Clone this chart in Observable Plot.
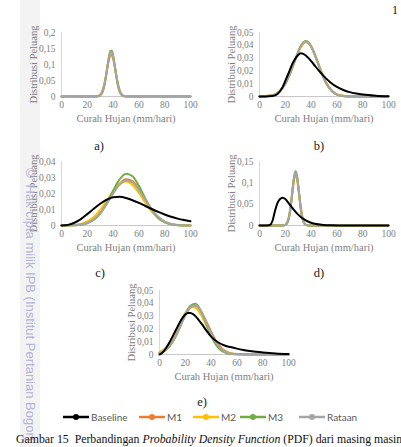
<!DOCTYPE html>
<html><head><meta charset="utf-8">
<script src="https://cdn.jsdelivr.net/npm/d3@7"></script>
<script src="https://cdn.jsdelivr.net/npm/@observablehq/plot@0.6"></script>
<style>
body{margin:0;background:#fff;}
#page{position:relative;width:401px;height:447px;overflow:hidden;background:#fff;font-family:"Liberation Serif",serif;}
.strip{position:absolute;left:20px;top:0;width:20px;height:447px;background:#f3f3f3;}
.tag{position:absolute;font-size:12.5px;color:#1a1a1a;transform:translate(-50%,-50%);line-height:1;}
.wm{position:absolute;left:24px;top:166px;writing-mode:vertical-rl;font-family:"Liberation Sans",Arial,sans-serif;font-size:13px;color:#b4b4d8;white-space:nowrap;line-height:1;}
.leg{position:absolute;display:flex;align-items:center;font-family:Lato,"Open Sans",sans-serif;font-size:10px;color:#595959;line-height:1;}
.leg svg{margin-right:2px;}
.cap{position:absolute;left:16px;top:434px;font-size:11.8px;color:#111;white-space:nowrap;line-height:1;}
.pg{position:absolute;left:392px;top:3px;font-size:12px;color:#111;}
</style></head><body><div id="page"><div class="strip"></div></div>
<script>
// ---------- data ----------
const seriesNames = ["Baseline", "M1", "M2", "M3", "Rataan"];
const seriesColors = ["#000000", "#ED7D31", "#FFC000", "#70AD47", "#A5A5A5"];
const xTicks = [0, 20, 40, 60, 80, 100];
const aYTicks = [0, 0.05, 0.1, 0.15, 0.2];
const bYTicks = [0, 0.01, 0.02, 0.03, 0.04, 0.05];
const cYTicks = [0, 0.01, 0.02, 0.03, 0.04];
const dYTicks = [0, 0.05, 0.1, 0.15];
const eYTicks = [0, 0.01, 0.02, 0.03, 0.04, 0.05];
const xTitle = "Curah Hujan (mm/hari)";
const yTitle = "Distribusi Peluang";
const panelTags = ["a)", "b)", "c)", "d)", "e)"];

// panel a
const aModelX = [0, 26, 28, 29, 30, 31, 32, 33, 34, 35, 36, 37, 38, 39, 40, 41, 42, 43, 44, 45, 46, 47, 48, 49, 51, 100];
const aM1 = [0, 0, 0.0011, 0.0026, 0.0057, 0.0114, 0.0209, 0.0352, 0.0541, 0.0765, 0.0992, 0.118, 0.1286, 0.1286, 0.118, 0.0992, 0.0765, 0.0541, 0.0352, 0.0209, 0.0114, 0.0057, 0.0026, 0.0011, 0, 0];
const aM2 = [0, 0, 0.0008, 0.002, 0.0046, 0.0096, 0.0185, 0.0326, 0.0523, 0.0766, 0.102, 0.1235, 0.136, 0.136, 0.1235, 0.102, 0.0766, 0.0523, 0.0326, 0.0185, 0.0096, 0.0046, 0.002, 0.0008, 0, 0];
const aM3 = [0, 0, 0.0005, 0.0013, 0.0034, 0.0078, 0.0161, 0.030, 0.0505, 0.0767, 0.105, 0.129, 0.143, 0.143, 0.129, 0.105, 0.0767, 0.0505, 0.030, 0.0161, 0.0078, 0.0034, 0.0013, 0.0005, 0, 0];
const aRataan = [0, 0, 0.0008, 0.002, 0.0045, 0.0094, 0.0183, 0.0325, 0.0525, 0.077, 0.103, 0.125, 0.138, 0.138, 0.125, 0.103, 0.077, 0.0525, 0.0325, 0.0183, 0.0094, 0.0045, 0.002, 0.0008, 0, 0];

// panel b
const bModelX = [0, 8, 12, 16, 20, 24, 28, 32, 36, 40, 44, 48, 52, 56, 60, 64, 70, 100];
const bM1 = [0, 0.0005, 0.0016, 0.0044, 0.0099, 0.0187, 0.0294, 0.0387, 0.0425, 0.0389, 0.0296, 0.0189, 0.0101, 0.0045, 0.0016, 0.0005, 0, 0];
const bM2 = [0, 0.0006, 0.0017, 0.0046, 0.0100, 0.0186, 0.0291, 0.0383, 0.0424, 0.0392, 0.0302, 0.0196, 0.0106, 0.0049, 0.0019, 0.0007, 0.0001, 0];
const bM3 = [0, 0.0005, 0.0015, 0.0043, 0.0099, 0.0189, 0.0299, 0.0396, 0.0434, 0.0395, 0.0298, 0.0187, 0.0097, 0.0042, 0.0014, 0.0004, 0, 0];
const bRataan = [0, 0.0005, 0.0015, 0.0043, 0.0098, 0.0187, 0.0296, 0.0391, 0.0429, 0.0391, 0.0296, 0.0187, 0.0098, 0.0043, 0.0015, 0.0005, 0, 0];
const bBaseX = [0, 5, 10, 14, 18, 22, 26, 30, 32, 34, 38, 42, 46, 50, 55, 60, 65, 70, 75, 80, 90, 100];
const bBase = [0, 0, 0.0003, 0.002, 0.0075, 0.017, 0.0265, 0.0325, 0.0338, 0.0333, 0.030, 0.0252, 0.0202, 0.0157, 0.011, 0.0075, 0.0051, 0.0034, 0.0023, 0.0015, 0.0006, 0.0002];

// panel c
const cX = [0, 5, 10, 15, 20, 25, 30, 35, 40, 45, 50, 55, 60, 65, 70, 75, 80, 85, 90, 95, 100];
const cBase = [0, 0.0004, 0.0017, 0.0040, 0.0071, 0.0105, 0.0136, 0.0161, 0.0177, 0.0179, 0.0172, 0.0158, 0.0141, 0.0122, 0.0103, 0.0085, 0.0069, 0.0055, 0.0043, 0.0034, 0.0027];
const cM1 = [0, 0.0001, 0.0002, 0.0006, 0.0017, 0.0039, 0.0079, 0.0136, 0.0203, 0.0261, 0.0289, 0.0277, 0.0228, 0.0162, 0.0100, 0.0053, 0.0024, 0.0009, 0.0003, 0.0001, 0];
const cM2 = [0, 0.0001, 0.0004, 0.0010, 0.0025, 0.0053, 0.0097, 0.0155, 0.0215, 0.0260, 0.0275, 0.0253, 0.0203, 0.0142, 0.0087, 0.0046, 0.0021, 0.0009, 0.0003, 0.0001, 0];
const cM3 = [0, 0, 0.0001, 0.0004, 0.0013, 0.0034, 0.0074, 0.0138, 0.0217, 0.0288, 0.0324, 0.0308, 0.0248, 0.0168, 0.0097, 0.0047, 0.0019, 0.0007, 0.0002, 0, 0];
const cRataan = [0, 0.0001, 0.0002, 0.0006, 0.0017, 0.0038, 0.0077, 0.0133, 0.0198, 0.0254, 0.0281, 0.0270, 0.0223, 0.0159, 0.0099, 0.0053, 0.0024, 0.0009, 0.0003, 0.0001, 0];

// panel d
const dModelX = [0, 16, 18, 20, 21, 22, 23, 24, 25, 26, 27, 28, 29, 30, 31, 32, 33, 34, 35, 36, 38, 40, 50, 100];
const dM1 = [0, 0, 0.0002, 0.002, 0.0052, 0.0119, 0.024, 0.0425, 0.0665, 0.0914, 0.1107, 0.118, 0.1107, 0.0914, 0.0665, 0.0425, 0.024, 0.0119, 0.0052, 0.002, 0.0002, 0, 0, 0];
const dM2 = [0, 0, 0.0001, 0.0015, 0.0042, 0.0103, 0.0218, 0.0405, 0.0658, 0.0928, 0.1142, 0.122, 0.1142, 0.0928, 0.0658, 0.0405, 0.0218, 0.0103, 0.0042, 0.0015, 0.0001, 0, 0, 0];
const dM3 = [0, 0, 0.0001, 0.0011, 0.0034, 0.0089, 0.020, 0.0389, 0.0653, 0.0945, 0.118, 0.127, 0.118, 0.0945, 0.0653, 0.0389, 0.020, 0.0089, 0.0034, 0.0011, 0.0001, 0, 0, 0];
const dRataan = [0, 0, 0.0001, 0.0013, 0.0038, 0.0096, 0.0209, 0.0397, 0.0656, 0.0937, 0.1163, 0.124, 0.1163, 0.0937, 0.0656, 0.0397, 0.0209, 0.0096, 0.0038, 0.0013, 0.0001, 0, 0, 0];
const dBaseX = [0, 6, 8, 10, 12, 14, 16, 18, 20, 22, 24, 26, 28, 30, 32, 34, 36, 38, 40, 44, 48, 52, 56, 60, 100];
const dBase = [0, 0, 0.001, 0.010, 0.034, 0.053, 0.062, 0.065, 0.062, 0.055, 0.047, 0.039, 0.032, 0.0255, 0.020, 0.0155, 0.0118, 0.0088, 0.0065, 0.0034, 0.0017, 0.0008, 0.0003, 0.0001, 0];

// panel e
const eModelX = [0, 4, 8, 12, 16, 20, 24, 28, 32, 36, 40, 44, 48, 52, 56, 60, 70, 80, 90, 100];
const eM1 = [0.0013, 0.0034, 0.0074, 0.0137, 0.0219, 0.0305, 0.0365, 0.0378, 0.0338, 0.0265, 0.0179, 0.0104, 0.0052, 0.0022, 0.0008, 0.0003, 0, 0, 0, 0];
const eM2 = [0.0019, 0.0044, 0.0091, 0.0162, 0.0247, 0.0326, 0.0372, 0.0365, 0.0312, 0.0232, 0.0150, 0.0083, 0.0040, 0.0016, 0.0006, 0.0002, 0, 0, 0, 0];
const eM3 = [0.001, 0.0028, 0.0065, 0.0129, 0.0217, 0.0312, 0.0380, 0.0396, 0.0343, 0.0246, 0.0146, 0.0072, 0.0029, 0.001, 0.0003, 0.0001, 0, 0, 0, 0];
const eRataan = [0.0013, 0.0033, 0.0072, 0.0135, 0.0220, 0.0310, 0.0370, 0.0384, 0.0340, 0.0255, 0.0165, 0.0090, 0.0042, 0.0016, 0.0005, 0.0002, 0, 0, 0, 0];
const eBaseX = [0, 2, 4, 6, 8, 10, 12, 14, 16, 18, 20, 22, 24, 26, 28, 30, 33, 36, 40, 45, 50, 55, 60, 65, 70, 75, 80, 90, 100];
const eBase = [0, 0.0012, 0.0035, 0.0065, 0.010, 0.0138, 0.0178, 0.0218, 0.0256, 0.0288, 0.0312, 0.0325, 0.0324, 0.0315, 0.0298, 0.0275, 0.0235, 0.0192, 0.0140, 0.0098, 0.0072, 0.0058, 0.0046, 0.0036, 0.0028, 0.0021, 0.0016, 0.0008, 0.0003];

const captionParts = ["Gambar 15\u00a0\u00a0Perbandingan ", "Probability Density Function", " (PDF) dari masing masing"];
const watermark = "\u00a9 Hak cipta milik IPB (Institut Pertanian Bogor)";

// ---------- build ----------
const page = document.getElementById("page");
const fmt = d => d === 0 ? "0" : String(d).replace(".", ",");

function rowsOf(list) {
  const rows = [];
  for (const [name, xs, ys] of list) ys.forEach((v, i) => rows.push({name, x: xs[i], y: v}));
  return rows;
}

const panels = [
  {left: 0, top: 20, yTicks: aYTicks, tag: [99, 146], series: [["M1", aModelX, aM1], ["M2", aModelX, aM2], ["M3", aModelX, aM3], ["Rataan", aModelX, aRataan]]},
  {left: 198, top: 20, yTicks: bYTicks, tag: [319, 146], series: [["M1", bModelX, bM1], ["M2", bModelX, bM2], ["M3", bModelX, bM3], ["Rataan", bModelX, bRataan], ["Baseline", bBaseX, bBase]]},
  {left: 0, top: 149, yTicks: cYTicks, tag: [100, 273], series: [["M1", cX, cM1], ["M2", cX, cM2], ["M3", cX, cM3], ["Rataan", cX, cRataan], ["Baseline", cX, cBase]]},
  {left: 198, top: 149, yTicks: dYTicks, tag: [319, 273], series: [["M1", dModelX, dM1], ["M2", dModelX, dM2], ["M3", dModelX, dM3], ["Rataan", dModelX, dRataan], ["Baseline", dBaseX, dBase]]},
  {left: 98, top: 278, yTicks: eYTicks, tag: [202, 402], series: [["M1", eModelX, eM1], ["M2", eModelX, eM2], ["M3", eModelX, eM3], ["Rataan", eModelX, eRataan], ["Baseline", eBaseX, eBase]]}
];

panels.forEach((p, k) => {
  const chart = Plot.plot({
    width: 200, height: 110,
    marginLeft: 61, marginRight: 10, marginTop: 12, marginBottom: 34,
    x: {domain: [0, 100]},
    y: {domain: [0, p.yTicks[p.yTicks.length - 1]]},
    color: {domain: seriesNames, range: seriesColors},
    style: {fontFamily: "'Liberation Serif', serif", fontSize: "9.5px", background: "transparent", overflow: "visible"},
    marks: [
      Plot.ruleX([0], {stroke: "#d9d9d9", strokeWidth: 1}),
      Plot.ruleY([0], {stroke: "#c8c8c8", strokeWidth: 1}),
      Plot.axisY(p.yTicks, {tickSize: 0, tickPadding: 6, tickFormat: fmt, label: null, color: "#808080", fontSize: 9.5}),
      Plot.axisX(xTicks, {tickSize: 0, tickPadding: 5, label: null, color: "#808080", fontSize: 9.5}),
      Plot.text([xTitle], {frameAnchor: "bottom", dy: 22, lineAnchor: "middle", textAnchor: "middle", fill: "#808080", fontSize: 10.5}),
      Plot.text([yTitle], {frameAnchor: "left", dx: -28, rotate: -90, lineAnchor: "middle", textAnchor: "middle", fill: "#808080", fontSize: 10.5}),
      Plot.line(rowsOf(p.series), {x: "x", y: "y", z: "name", stroke: "name", strokeWidth: 2, curve: "monotone-x"})
    ]
  });
  chart.style.position = "absolute";
  chart.style.left = p.left + "px";
  chart.style.top = p.top + "px";
  page.appendChild(chart);
  const t = document.createElement("div");
  t.className = "tag";
  t.textContent = panelTags[k];
  t.style.left = p.tag[0] + "px";
  t.style.top = p.tag[1] + "px";
  page.appendChild(t);
});

// watermark
const wm = document.createElement("div");
wm.className = "wm";
wm.textContent = watermark;
page.appendChild(wm);

// legend
const legLeft = [63, 139, 193, 240, 299];
seriesNames.forEach((name, i) => {
  const item = document.createElement("div");
  item.className = "leg";
  item.style.left = legLeft[i] + "px";
  item.style.top = "411px";
  const c = seriesColors[i];
  item.innerHTML = `<svg width="26" height="12"><line x1="0" y1="6" x2="26" y2="6" stroke="${c}" stroke-width="2.5"/><circle cx="13" cy="6" r="3" fill="${c}"/></svg><span>${name}</span>`;
  page.appendChild(item);
});

// caption
const cap = document.createElement("div");
cap.className = "cap";
cap.innerHTML = `${captionParts[0]}<i>${captionParts[1]}</i>${captionParts[2]}`;
page.appendChild(cap);

const pg = document.createElement("div");
pg.className = "pg";
pg.textContent = "1";
page.appendChild(pg);
</script>
</body></html>
